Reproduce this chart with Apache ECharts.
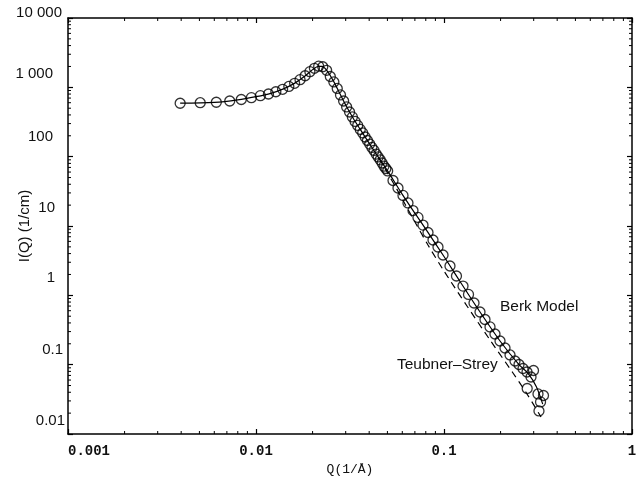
<!DOCTYPE html>
<html>
<head>
<meta charset="utf-8">
<script src="https://cdn.jsdelivr.net/npm/echarts@6/dist/echarts.min.js"></script>
<style>
html, body { margin: 0; padding: 0; background: #fff; }
#chart { width: 644px; height: 485px; }
</style>
</head>
<body>
<div id="chart"></div>
<script>
// measured SANS points, Q (1/Å) and I(Q) (1/cm)
var qData = [0.00395, 0.00505, 0.00615, 0.00725, 0.00835, 0.00945, 0.01055, 0.01165, 0.01275, 0.01385,
  0.01495, 0.01605, 0.01715, 0.01825, 0.01935, 0.02045, 0.02155, 0.02265, 0.02375, 0.02485,
  0.02595, 0.02705, 0.02815, 0.02925, 0.03035, 0.03145, 0.03255, 0.03365, 0.03475, 0.03585,
  0.03695, 0.03805, 0.03915, 0.04025, 0.04135, 0.04245, 0.04355, 0.04465, 0.04575, 0.04685,
  0.04795, 0.04905, 0.05015,
  0.05355, 0.05692, 0.06051, 0.06432, 0.06839, 0.0727, 0.0773, 0.0822, 0.0874, 0.0929,
  0.0988, 0.1076, 0.1165, 0.1262, 0.135, 0.1444, 0.1554, 0.1652, 0.1757, 0.1867,
  0.1986, 0.2111, 0.2245, 0.2386, 0.2506, 0.2632, 0.2764, 0.2903, 0.2993, 0.277,
  0.3162, 0.3382, 0.3262, 0.32];
var iData = [589, 600, 609, 635, 668, 709, 758, 802, 863, 937,
  1029, 1144, 1290, 1468, 1682, 1883, 2019, 1980, 1762, 1434,
  1195, 963, 776, 635, 521, 441, 374, 322, 282, 247,
  220, 192, 171, 152, 136, 123, 109, 99, 90, 81,
  73, 67.5, 62.2,
  45.3, 35.3, 27.6, 21.5, 16.7, 13.3, 10.3, 8.06, 6.28, 4.98,
  3.82, 2.65, 1.90, 1.36, 1.03, 0.775, 0.575, 0.448, 0.350, 0.277,
  0.2195, 0.174, 0.138, 0.113, 0.1006, 0.0881, 0.0784, 0.0664, 0.0824, 0.0453,
  0.0378, 0.0359, 0.0290, 0.0215];

// Berk model (solid)
var berkQ = [0.00395, 0.006, 0.008, 0.01, 0.012, 0.014, 0.016, 0.018, 0.02, 0.0215, 0.0225, 0.024, 0.026,
  0.028, 0.03, 0.033, 0.036, 0.04, 0.045, 0.05, 0.06, 0.07, 0.08, 0.1, 0.12, 0.15, 0.2, 0.25, 0.28, 0.31, 0.335];
var berkI = [590, 605, 658, 733, 820, 950, 1140, 1420, 1800, 2010, 2000, 1700, 1190,
  800, 555, 352, 243, 156, 96, 62.8, 28.6, 15.3, 9.0, 3.63, 1.68, 0.664, 0.214, 0.101, 0.075, 0.048, 0.027];

// Teubner-Strey (dashed)
var tsQ = [0.045, 0.0549, 0.062, 0.0701, 0.0822, 0.1, 0.1325, 0.1757, 0.2328, 0.2764, 0.3281];
var tsI = [96, 37.8, 20.8, 11.4, 5.32, 2.24, 0.702, 0.2269, 0.0758, 0.0378, 0.0176];

var xTickLabels = ['0.001', '0.01', '0.1', '1'];
var yTickLabels = ['0.01', '0.1', '1', '10', '100', '1 000', '10 000'];

function pairs(xs, ys) {
  return xs.map(function (x, i) { return [x, ys[i]]; });
}

var yFont = { fontFamily: 'Liberation Sans', fontSize: 15, lineHeight: 15, color: '#111' };
var xFont = { fontFamily: 'Liberation Mono', fontWeight: 'bold', fontSize: 14, lineHeight: 14, color: '#111' };

// per-label nudges, the scanned labels sit a bit above their ticks
var yPads = [[0, 1, 26, 0], [0, 3, 30, 0], [0, 11, 34, 0], [0, 11, 36, 0], [0, 13, 40, 0], [0, 13, 26, 0], [0, 4, 10, 0]];
var yRich = {};
yPads.forEach(function (p, i) {
  yRich['a' + i] = Object.assign({ padding: p }, yFont);
});

var black = '#000';
var frameLine = { lineStyle: { color: black, width: 1.5 } };
var tick = { inside: true, length: 5, lineStyle: { color: black, width: 1.2 } };

var chart = echarts.init(document.getElementById('chart'));

chart.setOption({
  animation: false,
  backgroundColor: '#fff',
  grid: { left: 68, right: 12, top: 18, bottom: 51, containLabel: false, outerBoundsMode: 'none' },
  xAxis: [
    {
      type: 'log', logBase: 10, min: 0.001, max: 1, splitNumber: 3,
      position: 'bottom',
      axisLine: frameLine, axisTick: tick, splitLine: { show: false },
      axisLabel: Object.assign({
        margin: 10,
        formatter: function (v) {
          var i = Math.round(Math.log10(v)) + 3;
          return i === 0 ? '{f|' + xTickLabels[i] + '}' : '{n|' + xTickLabels[i] + '}';
        },
        rich: {
          f: Object.assign({ padding: [0, 0, 0, 42] }, xFont),
          n: Object.assign({}, xFont)
        }
      }, xFont),
      name: 'Q(1/Å)', nameLocation: 'middle', nameGap: 29, nameMoveOverlap: false,
      nameTextStyle: { fontFamily: 'Liberation Mono', fontSize: 13, color: '#111' }
    },
    {
      type: 'log', logBase: 10, min: 0.001, max: 1, splitNumber: 3,
      position: 'top',
      axisLine: frameLine, axisTick: tick, splitLine: { show: false },
      axisLabel: { show: false }
    }
  ],
  yAxis: [
    {
      type: 'log', logBase: 10, min: 0.01, max: 10000, splitNumber: 6,
      position: 'left',
      axisLine: frameLine, axisTick: tick, splitLine: { show: false },
      axisLabel: Object.assign({
        margin: 2,
        formatter: function (v) {
          var i = Math.round(Math.log10(v)) + 2;
          return '{a' + i + '|' + yTickLabels[i] + '}';
        },
        rich: yRich
      }, yFont),
      name: 'I(Q) (1/cm)', nameLocation: 'middle', nameGap: 36, nameMoveOverlap: false,
      nameTextStyle: { fontFamily: 'Liberation Sans', fontSize: 15, color: '#111' }
    },
    {
      type: 'log', logBase: 10, min: 0.01, max: 10000, splitNumber: 6,
      position: 'right',
      axisLine: frameLine, axisTick: tick, splitLine: { show: false },
      axisLabel: { show: false }
    }
  ],
  series: [
    {
      name: 'Berk Model', type: 'line', data: pairs(berkQ, berkI),
      showSymbol: false, smooth: 0.3,
      lineStyle: { color: black, width: 1.2 }, z: 2
    },
    {
      name: 'Teubner-Strey', type: 'line', data: pairs(tsQ, tsI),
      showSymbol: false, smooth: 0.3,
      lineStyle: { color: black, width: 1.2, type: [7, 5] }, z: 2
    },
    {
      name: 'data', type: 'scatter', data: pairs(qData, iData),
      symbol: 'circle', symbolSize: 10,
      itemStyle: { color: 'rgba(0,0,0,0)', borderColor: black, borderWidth: 1.3 },
      z: 3
    }
  ]
});

// annotations + log minor ticks (2..9 in every decade), placed through the axes' own scales
var labelStyle = { fontFamily: 'Liberation Sans', fontSize: 15.5, fontWeight: 'normal', fill: '#111', stroke: null, lineWidth: 0 };
var gfx = [
  { type: 'text', left: 500, top: 299, style: Object.assign({ text: 'Berk Model' }, labelStyle) },
  { type: 'text', left: 397, top: 357, style: Object.assign({ text: 'Teubner–Strey' }, labelStyle) }
];
var yBot = chart.convertToPixel({ yAxisIndex: 0 }, 0.01);
var yTop = chart.convertToPixel({ yAxisIndex: 0 }, 10000);
var xLeft = chart.convertToPixel({ xAxisIndex: 0 }, 0.001);
var xRight = chart.convertToPixel({ xAxisIndex: 0 }, 1);
var ml = 3;
var ls = { stroke: black, lineWidth: 1 };
for (var d = -3; d < 0; d++) {
  for (var k = 2; k <= 9; k++) {
    var px = chart.convertToPixel({ xAxisIndex: 0 }, k * Math.pow(10, d));
    gfx.push({ type: 'line', shape: { x1: px, y1: yBot, x2: px, y2: yBot - ml }, style: ls });
    gfx.push({ type: 'line', shape: { x1: px, y1: yTop, x2: px, y2: yTop + ml }, style: ls });
  }
}
for (var e = -2; e < 4; e++) {
  for (var m = 2; m <= 9; m++) {
    var py = chart.convertToPixel({ yAxisIndex: 0 }, m * Math.pow(10, e));
    gfx.push({ type: 'line', shape: { x1: xLeft, y1: py, x2: xLeft + ml, y2: py }, style: ls });
    gfx.push({ type: 'line', shape: { x1: xRight, y1: py, x2: xRight - ml, y2: py }, style: ls });
  }
}
chart.setOption({ graphic: gfx });
</script>
</body>
</html>
